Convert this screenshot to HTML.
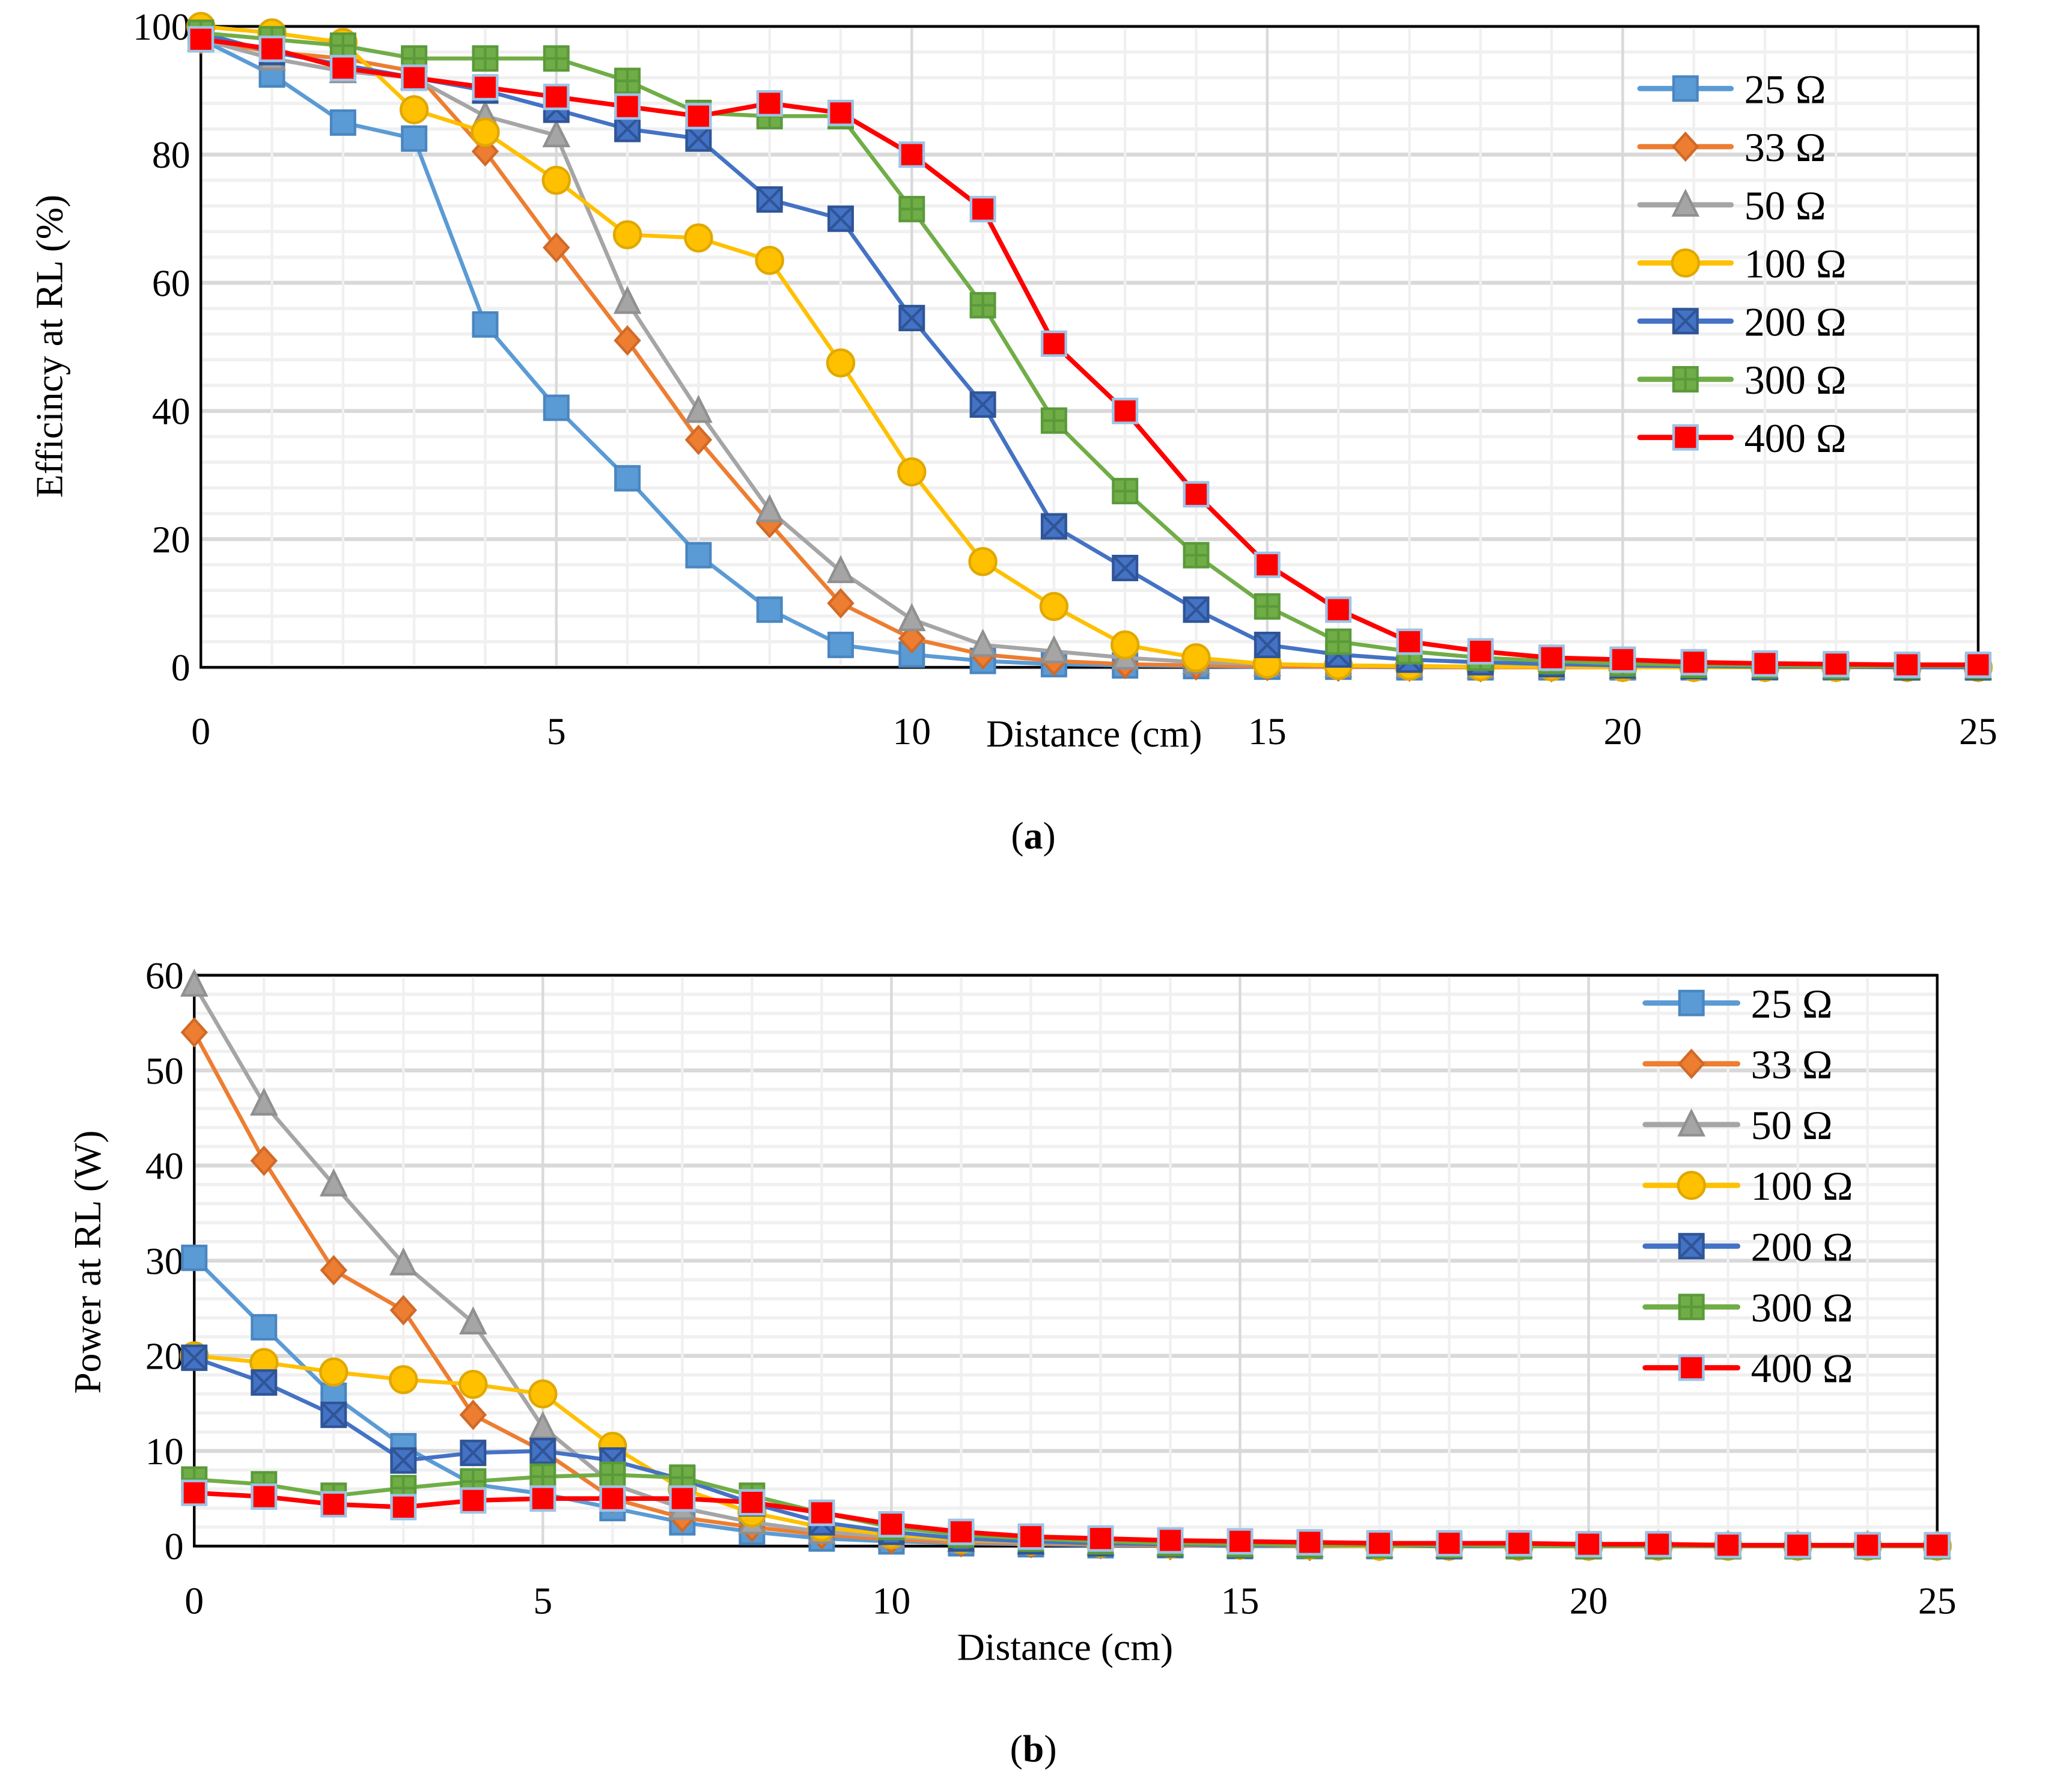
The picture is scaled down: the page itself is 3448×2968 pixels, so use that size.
<!DOCTYPE html>
<html><head><meta charset="utf-8"><style>
html,body{margin:0;padding:0;background:#fff;}
svg{display:block;font-family:"Liberation Serif",serif;}
</style></head><body>
<svg id="s" width="3448" height="2968" viewBox="0 0 1568 1350" preserveAspectRatio="none" xmlns="http://www.w3.org/2000/svg"></svg>
<script>
const xCats=[0,1,2,3,4,5,6,7,8,9,10,11,12,13,14,15,16,17,18,19,20,21,22,23,24,25];
const seriesNames=["25 Ω","33 Ω","50 Ω","100  Ω","200 Ω","300 Ω","400 Ω"];
const eff25=[98,92.5,85,82.5,53.5,40.5,29.5,17.5,9,3.5,2,1,0.5,0.3,0.2,0.1,0.1,0,0,0,0,0,0,0,0,0];
const eff33=[98,96,95,93,80.5,65.5,51,35.5,22.5,10,4.5,2,1,0.5,0.3,0.2,0.1,0.1,0,0,0,0,0,0,0,0];
const eff50=[98,95,93,92,86,83,57,40,24.5,15,7.5,3.5,2.5,1.5,0.8,0.5,0.3,0.2,0.1,0.1,0,0,0,0,0,0];
const eff100=[100,99,97.5,87,83.5,76,67.5,67,63.5,47.5,30.5,16.5,9.5,3.5,1.5,0.5,0.3,0.2,0.1,0.1,0,0,0,0,0,0];
const eff200=[99,96,94,92,90,87,84,82.5,73,70,54.5,41,22,15.5,9,3.5,2,1.2,0.8,0.5,0.3,0.2,0.1,0.1,0,0];
const eff300=[99,98,97,95,95,95,91.5,86.5,86,86,71.5,56.5,38.5,27.5,17.5,9.5,4,2.5,1.5,1,0.6,0.4,0.3,0.2,0.2,0.2];
const eff400=[98,96.5,93.5,92,90.5,89,87.5,86,88,86.5,80,71.5,50.5,40,27,16,9,4,2.5,1.5,1.2,0.8,0.6,0.5,0.4,0.4];
const pw25=[30.3,23,15.8,10.5,6.5,5.5,4,2.5,1.5,0.8,0.5,0.3,0.2,0.1,0.1,0,0,0,0,0,0,0,0,0,0,0];
const pw33=[54,40.5,29,24.8,13.8,10,5,3,2,1.2,0.7,0.4,0.3,0.2,0.1,0.1,0,0,0,0,0,0,0,0,0,0];
const pw50=[59,46.5,38,29.7,23.5,12.5,6.5,4,2.5,1.5,1,0.6,0.4,0.3,0.2,0.1,0.1,0,0,0,0,0,0,0,0,0];
const pw100=[20,19.3,18.3,17.5,17,16,10.5,6,3.5,2,1.2,0.7,0.5,0.3,0.2,0.1,0.1,0,0,0,0,0,0,0,0,0];
const pw200=[19.8,17.2,13.8,9,9.8,10,9,7,4.5,2.5,1.5,0.8,0.5,0.3,0.2,0.1,0.1,0.1,0,0,0,0,0,0,0,0];
const pw300=[7,6.5,5.3,6.1,6.8,7.3,7.5,7.2,5.3,3.5,2,1.2,0.8,0.5,0.3,0.2,0.1,0.1,0.1,0,0,0,0,0,0,0];
const pw400=[5.6,5.2,4.4,4.1,4.8,5,5,5,4.6,3.5,2.3,1.5,1,0.8,0.6,0.5,0.4,0.3,0.3,0.3,0.2,0.2,0.1,0.1,0.1,0.1];
const xTicks=[0,5,10,15,20,25];
const effTicks=[0,20,40,60,80,100];
const pwTicks=[0,10,20,30,40,50,60];

const colors=["#5b9bd5","#ed7d31","#a5a5a5","#ffc000","#4472c4","#70ad47","#ff0000"];
const strokes=["#4a86c0","#d06a28","#909090","#e0a800","#2f5597","#5a9a3a","#9dc3e6"];
const shapes=["sq","dia","tri","circ","sqx","sqp","sq"];
const NS="http://www.w3.org/2000/svg";
const svg=document.getElementById('s');
function mk(tag,attrs,parent){const e=document.createElementNS(NS,tag);for(const k in attrs)e.setAttribute(k,attrs[k]);(parent||svg).appendChild(e);return e;}

function marker(g,shape,cx,cy,i){
  const f=colors[i],s=strokes[i],r=9;let e;
  if(shape==="sq"||shape==="sqx"||shape==="sqp"){e=mk('rect',{x:cx-r,y:cy-r,width:2*r,height:2*r,fill:f,stroke:s,'stroke-width':2},g);
    if(shape==="sqx"){mk('path',{d:`M${cx-r} ${cy-r}L${cx+r} ${cy+r}M${cx+r} ${cy-r}L${cx-r} ${cy+r}`,stroke:"#2f5597",'stroke-width':2},g);}
    if(shape==="sqp"){mk('path',{d:`M${cx} ${cy-r}V${cy+r}M${cx-r} ${cy}H${cx+r}`,stroke:"#5a9a3a",'stroke-width':2},g);}}
  else if(shape==="dia"){e=mk('polygon',{points:`${cx},${cy-r-1} ${cx+r},${cy} ${cx},${cy+r+1} ${cx-r},${cy}`,fill:f,stroke:s,'stroke-width':2},g);}
  else if(shape==="tri"){e=mk('polygon',{points:`${cx},${cy-r-1} ${cx+r},${cy+r-1} ${cx-r},${cy+r-1}`,fill:f,stroke:s,'stroke-width':2},g);}
  else {e=mk('circle',{cx:cx,cy:cy,r:r+1,fill:f,stroke:s,'stroke-width':2},g);}
  return e;
}

function chart(cfg){
  const {L,R,T,B,ymax,minorY,majorY,yTicks,series,ylabel,ylx,yly,xlabel,xlx,xly,tickY,cap,capY,leg,id}=cfg;
  const sx=v=>L+(v-0)/25*(R-L);
  const sy=v=>B-v/ymax*(B-T);
  const g=mk('g',{});
  
  
  const grid=mk('g',{},g);
  
  
  for(let v=0;v<=ymax;v+=minorY){mk('line',{x1:L,x2:R,y1:sy(v),y2:sy(v),stroke:(v%majorY===0)?"#d9d9d9":"#f0f0f0",'stroke-width':(v%majorY===0)?3:2.5},grid);}
  for(let v=1;v<25;v++){mk('line',{x1:sx(v),x2:sx(v),y1:T,y2:B,stroke:(v%5===0)?"#d9d9d9":"#f0f0f0",'stroke-width':2},grid);}
  const box=mk('rect',{x:L,y:T,width:R-L,height:B-T,fill:"none",stroke:"#000",'stroke-width':2},g);
  
  
  yTicks.forEach(v=>{const t=mk('text',{x:L-8,y:sy(v)+10,'text-anchor':'end','font-size':29},g);t.textContent=v;
    
    });
  xTicks.forEach(v=>{const t=mk('text',{x:sx(v),y:tickY,'text-anchor':'middle','font-size':29},g);t.textContent=v;
    
    });
  series.forEach((data,i)=>{
    const sg=mk('g',{},g);
    
    
    const pts=data.map((v,k)=>sx(xCats[k])+","+sy(v)).join(" ");
    mk('polyline',{points:pts,fill:"none",stroke:colors[i],'stroke-width':i===6?3.5:3,'stroke-linejoin':'round'},sg);
    data.forEach((v,k)=>{const m=marker(sg,shapes[i],sx(xCats[k]),sy(v),i);
      
      });
  });
  const yl=mk('text',{x:0,y:0,transform:`translate(${ylx},${yly}) rotate(-90)`,'text-anchor':'middle','font-size':29},g);
  yl.textContent=ylabel;
  
  
  const xl=mk('text',{x:xlx,y:xly,'text-anchor':'middle','font-size':29},g);
  xl.textContent=xlabel;
  
  
  const cp=mk('text',{x:782,y:capY,'text-anchor':'middle','font-size':29},g);
  cp.innerHTML='(<tspan font-weight="bold">'+cap+'</tspan>)';
  
  
  const lg=mk('g',{},g);
  
  
  seriesNames.forEach((n,i)=>{
    const y=leg.y0+i*leg.dy;
    const eg=mk('g',{},lg);
    
    
    mk('line',{x1:leg.x1,x2:leg.x2,y1:y,y2:y,stroke:colors[i],'stroke-width':4,'stroke-linecap':'round'},eg);
    marker(eg,shapes[i],(leg.x1+leg.x2)/2,y,i);
    const t=mk('text',{x:leg.tx,y:y+11,'font-size':31},eg);t.textContent=n;
  });
}
chart({id:"efficiency",L:152,R:1497,T:20,B:505,ymax:100,minorY:4,majorY:20,yTicks:effTicks,
  series:[eff25,eff33,eff50,eff100,eff200,eff300,eff400],ylabel:"Efficincy at RL (%)",ylx:47,yly:262,
  xlabel:"Distance (cm)",xlx:828,xly:565,tickY:563,cap:"a",capY:642,leg:{x1:1241,x2:1310,tx:1320,y0:67,dy:44}});
chart({id:"power",L:147,R:1466,T:738,B:1170,ymax:60,minorY:2,majorY:10,yTicks:pwTicks,
  series:[pw25,pw33,pw50,pw100,pw200,pw300,pw400],ylabel:"Power at RL (W)",ylx:76,yly:955,
  xlabel:"Distance (cm)",xlx:806,xly:1256,tickY:1221,cap:"b",capY:1333,leg:{x1:1245,x2:1315,tx:1325,y0:759,dy:46}});
</script>
</body></html>
